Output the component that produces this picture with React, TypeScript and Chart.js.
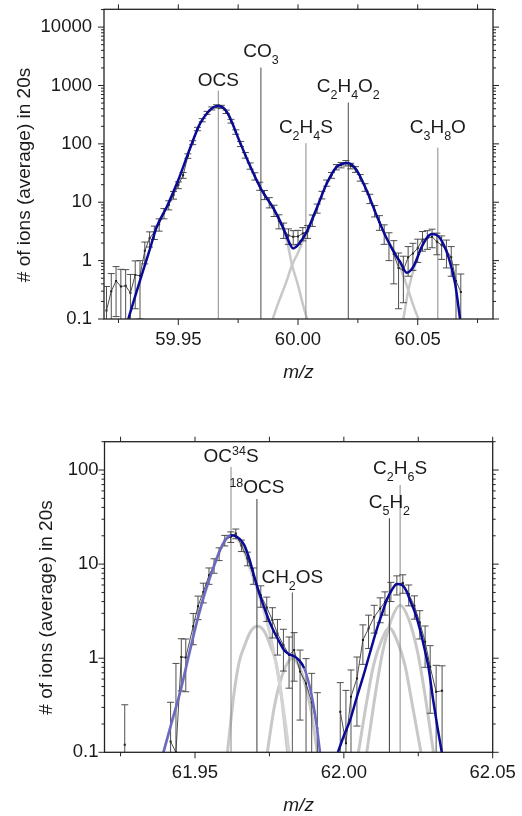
import React, { useEffect, useRef } from "react";
import { Chart, registerables } from "chart.js";

Chart.register(...registerables);

const FONT = '"Liberation Sans", Arial, Helvetica, sans-serif';
const INK = "#1a1a1a";
const FIT_DARK = "#0a0a96";
const FIT_LIGHT = "#6a6ac2";
const COMP_GRAY = "#c8c8c8";
const Y_TITLE = "# of ions (average) in 20s";
const X_TITLE = "m/z";

// ================= TOP PANEL (m/z ≈ 60) =================
const topXTicks = [59.925, 59.95, 59.975, 60.0, 60.025, 60.05, 60.075];
const topXLabels = ["", "59.95", "", "60.00", "", "60.05", ""];
const topYMajors = [0.1, 1, 10, 100, 1000, 10000];
const topYLabels = ["0.1", "1", "10", "100", "1000", "10000"];

const topMz = [
  59.920, 59.922, 59.924, 59.926, 59.928, 59.930, 59.932, 59.934, 59.936, 59.938,
  59.940, 59.942, 59.944, 59.946, 59.948, 59.950, 59.952, 59.954, 59.956, 59.958,
  59.960, 59.962, 59.964, 59.966, 59.968, 59.970, 59.972, 59.974, 59.976, 59.978,
  59.980, 59.982, 59.984, 59.986, 59.988, 59.990, 59.992, 59.994, 59.996, 59.998,
  60.000, 60.002, 60.004, 60.006, 60.008, 60.010, 60.012, 60.014, 60.016, 60.018,
  60.020, 60.022, 60.024, 60.026, 60.028, 60.030, 60.032, 60.034, 60.036, 60.038,
  60.040, 60.042, 60.044, 60.046, 60.048, 60.050, 60.052, 60.054, 60.056, 60.058,
  60.060, 60.062, 60.064, 60.066, 60.068,
];
const topCounts = [
  0.14, 0.30, 0.45, 0.36, 0.37, 0.28, 0.57, 0.55, 1.48, 2.41,
  3.1, 4.2, 6.5, 9.0, 13.3, 19.7, 29, 62, 105, 180,
  255, 340, 405, 440, 430, 355, 245, 160, 100, 64,
  42, 28, 19, 13.5, 10, 7.3, 4.8, 3.4, 2.7, 2.56,
  2.6, 2.93, 3.2, 4.95, 7.9, 13.4, 21.4, 29, 40, 43.4,
  46.8, 41.9, 36.6, 26.4, 18.1, 11.6, 7.2, 4.6, 3.0, 2.0,
  1.3, 0.75, 0.69, 1.14, 1.33, 1.63, 2.3, 2.41, 2.56, 2.11,
  1.85, 1.5, 1.14, 0.45, 0.29,
];
const topErr = [
  0.22, 0.3, 0.34, 0.35, 0.33, 0.3, 0.42, 0.45, 0.6, 0.7,
  0.8, 1.0, 1.3, 1.6, 2.0, 2.6, 3.3, 5.5, 8, 12,
  16, 20, 24, 28, 28, 24, 18, 14, 10, 7,
  5.2, 4, 3, 2.4, 2, 1.6, 1.3, 1.0, 0.8, 0.7,
  0.7, 0.75, 0.8, 1.1, 1.4, 2, 2.6, 3.3, 4.2, 4.6,
  5, 4.6, 4.1, 3.4, 2.7, 2.1, 1.6, 1.3, 1.1, 1.0,
  0.9, 0.6, 0.5, 0.6, 0.65, 0.7, 0.85, 0.85, 0.9, 0.85,
  0.8, 0.75, 0.6, 0.4, 0.3,
];

const topFitMz = [
  59.9291, 59.9319, 59.9348, 59.9378, 59.9410, 59.9452, 59.9500, 59.9549, 59.9591, 59.9624,
  59.9645, 59.9666, 59.9687, 59.9709, 59.9751, 59.9792, 59.9848, 59.9897, 59.9939, 59.9960,
  59.9980, 60.0000, 60.0036, 60.0078, 60.0120, 60.0161, 60.0185, 60.0205, 60.0225, 60.0245,
  60.0286, 60.0328, 60.0370, 60.0412, 60.0426, 60.0454, 60.0482, 60.0517, 60.0540, 60.0559,
  60.0578, 60.0594, 60.0628, 60.0656, 60.0677,
];
const topFitCounts = [
  0.1, 0.24, 0.58, 1.42, 3.8, 8.4, 24, 84, 224, 350,
  420, 445, 420, 320, 124, 49.4, 16.2, 7.9, 3.57, 2.2,
  1.62, 1.85, 3.1, 7.9, 21, 40.5, 45.5, 47, 44, 35.6,
  16.2, 6.0, 2.41, 1.17, 0.96, 0.62, 0.79, 1.73, 2.5, 2.85,
  2.75, 2.41, 1.17, 0.41, 0.1,
];

// component tails (grey)
const topOcsTailMz = [59.9848, 59.9897, 59.9939, 59.9958, 59.9975, 60.0000, 60.0020, 60.0038];
const topOcsTail = [16.2, 7.9, 3.57, 1.81, 0.84, 0.38, 0.18, 0.1];
const topC2H4O2LeftMz = [59.9894, 59.9920, 59.9950, 59.9975, 60.0000, 60.0029, 60.0045, 60.0078];
const topC2H4O2Left = [0.1, 0.2, 0.42, 0.84, 1.36, 2.65, 3.4, 7.9];
const topC2H4O2RightMz = [60.0370, 60.0412, 60.0436, 60.0461, 60.0482, 60.0503];
const topC2H4O2Right = [2.41, 1.17, 0.61, 0.31, 0.17, 0.1];
const topC3H8OLeftMz = [60.0440, 60.0461, 60.0489, 60.0510, 60.0530];
const topC3H8OLeft = [0.1, 0.31, 0.84, 1.52, 2.2];

type Seg = [string, "n" | "sub" | "sup"];

const topMarkerMz = [59.9667, 59.9845, 60.0033, 60.0210, 60.0584];
const topMarkerTop = [819, 2028, 102.8, 511, 86.3];
const topMarkerLabelY = [986, 3062, 152, 769, 152];
const topMarkerColor = ["#8a8a8a", "#4a4a4a", "#8a8a8a", "#4a4a4a", "#8a8a8a"];
const topMarkerLabels: Seg[][] = [
  [["OCS", "n"]],
  [["CO", "n"], ["3", "sub"]],
  [["C", "n"], ["2", "sub"], ["H", "n"], ["4", "sub"], ["S", "n"]],
  [["C", "n"], ["2", "sub"], ["H", "n"], ["4", "sub"], ["O", "n"], ["2", "sub"]],
  [["C", "n"], ["3", "sub"], ["H", "n"], ["8", "sub"], ["O", "n"]],
];

// ================= BOTTOM PANEL (m/z ≈ 62) =================
const botXTicks = [61.925, 61.95, 61.975, 62.0, 62.025, 62.05];
const botXLabels = ["", "61.95", "", "62.00", "", "62.05"];
const botYMajors = [0.1, 1, 10, 100];
const botYLabels = ["0.1", "1", "10", "100"];

const botMz = [
  61.9264, 61.9340, 61.9418, 61.9436, 61.9454, 61.9469, 61.9494, 61.9510, 61.9528, 61.9547,
  61.9564, 61.9581, 61.9600, 61.9620, 61.9637, 61.9656, 61.9676, 61.9696, 61.9721, 61.9741,
  61.9760, 61.9777, 61.9797, 61.9816, 61.9833, 61.9853, 61.9873, 61.9892, 61.9911, 61.9950,
  61.9988, 62.0007, 62.0024, 62.0044, 62.0064, 62.0083, 62.0102, 62.0122, 62.0138, 62.0158,
  62.0178, 62.0198, 62.0218, 62.0237, 62.0255, 62.0273, 62.0290, 62.0310, 62.0330,
];
const botCounts: (number | null)[] = [
  0.12, null, 0.13, 0.1, 1.03, 1.02, 2.19, 3.57, 5.07, 7.6,
  9.7, 12.9, 17.9, 19.5, 21.1, 15.8, 11.5, 7.6, 4.68, 3.46,
  2.54, 1.83, 1.38, 1.08, 1.22, 0.72, 0.54, 0.34, 0.18, null,
  0.27, 0.125, 0.39, 0.61, 1.56, 2.07, 2.75, 3.38, 3.97, 5.2,
  6.1, 6.3, 4.8, 3.6, 2.4, 1.5, 0.81, 0.44, 0.45,
];
const botErr = [
  0.2, 0, 0.21, 0.78, 0.58, 0.58, 0.8, 1.0, 1.2, 1.5,
  1.7, 2.0, 2.3, 2.5, 2.5, 2.2, 1.9, 1.5, 1.2, 1.0,
  0.9, 0.75, 0.65, 0.6, 0.65, 0.5, 0.45, 0.35, 0.25, 0,
  0.28, 0.33, 0.36, 0.42, 0.7, 0.8, 0.9, 1.0, 1.1, 1.2,
  1.4, 1.4, 1.2, 1.0, 0.8, 0.7, 0.55, 0.4, 0.38,
];

const botFit1Mz = [
  61.9394, 61.9420, 61.9452, 61.9480, 61.9508, 61.9530, 61.9553, 61.9570, 61.9586, 61.9603,
  61.9620, 61.9635, 61.9650, 61.9665, 61.9682, 61.9698, 61.9715, 61.9732, 61.9749, 61.9766,
  61.9783, 61.9799, 61.9816, 61.9833, 61.9850, 61.9867, 61.9882, 61.9895, 61.9908, 61.9920,
];
const botFit1 = [
  0.1, 0.2, 0.46, 1.1, 2.55, 4.6, 7.65, 10.8, 14.6, 18.3,
  20.3, 20.0, 18.5, 16, 11.5, 7.6, 5.0, 3.5, 2.5, 1.9,
  1.5, 1.22, 1.1, 1.05, 0.95, 0.78, 0.55, 0.36, 0.2, 0.1,
];
const botFit2Mz = [
  61.9980, 62.0000, 62.0021, 62.0043, 62.0065, 62.0088, 62.0110, 62.0127, 62.0144, 62.0161,
  62.0178, 62.0195, 62.0210, 62.0222, 62.0240, 62.0256, 62.0270, 62.0284, 62.0300, 62.0315,
  62.0329,
];
const botFit2 = [
  0.1, 0.15, 0.22, 0.38, 0.64, 1.15, 2.0, 2.9, 4.15, 5.3,
  6.15, 6.0, 5.2, 4.15, 3.0, 2.0, 1.3, 0.81, 0.36, 0.18,
  0.1,
];

const botOC34SMz = [61.9394, 61.9452, 61.9508, 61.9553, 61.9586, 61.9620, 61.9640, 61.9660, 61.9687, 61.9721, 61.9754, 61.9782, 61.9805, 61.9816];
const botOC34S = [0.1, 0.46, 2.55, 7.65, 14.6, 20.3, 19, 15, 8.6, 4.1, 1.69, 0.59, 0.19, 0.1];
const bot18OCSMz = [61.9609, 61.9631, 61.9648, 61.9665, 61.9688, 61.9710, 61.9732, 61.9755, 61.9772, 61.9789, 61.9811];
const bot18OCS = [0.1, 0.42, 0.9, 1.32, 1.95, 2.19, 1.95, 1.32, 0.9, 0.42, 0.1];
const botCH2OSMz = [61.9743, 61.9766, 61.9788, 61.9810, 61.9827, 61.9845, 61.9866, 61.9888, 61.9911];
const botCH2OS = [0.1, 0.30, 0.59, 0.88, 1.0, 0.88, 0.59, 0.30, 0.1];
const botC5H2Mz = [62.0049, 62.0075, 62.0100, 62.0125, 62.0153, 62.0180, 62.0205, 62.0230, 62.0259];
const botC5H2 = [0.1, 0.32, 0.85, 1.5, 2.1, 1.5, 0.85, 0.32, 0.1];
const botC2H6SMz = [62.0077, 62.0105, 62.0130, 62.0160, 62.0189, 62.0218, 62.0248, 62.0273, 62.0301];
const botC2H6S = [0.1, 0.4, 1.15, 2.6, 3.66, 2.6, 1.15, 0.4, 0.1];

const botMarkerMz = [61.9621, 61.9708, 61.9827, 62.0153, 62.0189];
const botMarkerTop = [108, 49.2, 5.0, 30.7, 69.3];
const botMarkerLabelY = [122, 56.5, 6.34, 39.2, 90.8];
const botMarkerColor = ["#8a8a8a", "#3a3a3a", "#555555", "#3a3a3a", "#8a8a8a"];
const botMarkerLabels: Seg[][] = [
  [["OC", "n"], ["34", "sup"], ["S", "n"]],
  [["18", "sup"], ["OCS", "n"]],
  [["CH", "n"], ["2", "sub"], ["OS", "n"]],
  [["C", "n"], ["5", "sub"], ["H", "n"], ["2", "sub"]],
  [["C", "n"], ["2", "sub"], ["H", "n"], ["6", "sub"], ["S", "n"]],
];

// ================= chart machinery =================
interface Curve { mz: number[]; v: number[]; color: string; width: number; light?: number[][] }
interface PanelSpec {
  width: number; height: number;
  area: { left: number; top: number; right: number; bottom: number };
  xMin: number; xMax: number; yMin: number; yMax: number;
  xTicks: number[]; xLabels: string[];
  yMajors: number[]; yLabels: string[]; yLabelGap: number;
  dataMz: number[]; dataY: (number | null)[]; dataErr: number[];
  fits: Curve[]; comps: Curve[];
  markers: { mz: number[]; top: number[]; labelY: number[]; color: string[]; labels: Seg[][] };
  yTitleX: number; yTitleY: number;
}

function logTicks(min: number, max: number): number[] {
  const out: number[] = [];
  for (let e = -1; e <= 5; e++) {
    for (let m = 1; m <= 9; m++) {
      const v = parseFloat((m * Math.pow(10, e)).toPrecision(3));
      if (v >= min - 1e-9 && v <= max) out.push(v);
    }
  }
  return out;
}

function drawRich(ctx: CanvasRenderingContext2D, segs: Seg[], cx: number, base: number) {
  const fontFor = (k: string) => (k === "n" ? `19px ${FONT}` : `12.5px ${FONT}`);
  const widths = segs.map(([t, k]) => {
    ctx.font = fontFor(k);
    return ctx.measureText(t).width;
  });
  const total = widths.reduce((a, b) => a + b, 0);
  let x = cx - total / 2;
  ctx.textAlign = "left";
  ctx.textBaseline = "alphabetic";
  segs.forEach(([t, k], i) => {
    ctx.font = fontFor(k);
    const dy = k === "sub" ? 7 : k === "sup" ? -6.5 : 0;
    ctx.fillText(t, x, base + dy);
    x += widths[i];
  });
}

function makePlugin(p: PanelSpec) {
  const yTicks = logTicks(p.yMin, p.yMax);
  return {
    id: "panelDecor",
    afterDatasetDraw(chart: any, args: any) {
      const ds = chart.data.datasets[args.index];
      if (ds.label !== "data") return;
      const { ctx, chartArea: a } = chart;
      const xs = chart.scales.x;
      const ys = chart.scales.y;
      ctx.save();
      ctx.beginPath();
      ctx.rect(a.left, a.top, a.right - a.left, a.bottom - a.top);
      ctx.clip();
      ctx.strokeStyle = "#3c3c3c";
      ctx.lineWidth = 0.9;
      p.dataMz.forEach((m, i) => {
        const v = p.dataY[i];
        const e = p.dataErr[i];
        if (v == null || !e) return;
        const px = xs.getPixelForValue(m);
        const yt = ys.getPixelForValue(v + e);
        const lo = v - e;
        const yb = lo > 0 ? ys.getPixelForValue(lo) : a.bottom + 3;
        ctx.beginPath();
        ctx.moveTo(px, yt);
        ctx.lineTo(px, yb);
        ctx.moveTo(px - 3.5, yt);
        ctx.lineTo(px + 3.5, yt);
        if (lo > 0) {
          ctx.moveTo(px - 3.5, yb);
          ctx.lineTo(px + 3.5, yb);
        }
        ctx.stroke();
      });
      ctx.restore();
    },
    afterDraw(chart: any) {
      const { ctx, chartArea: a } = chart;
      const xs = chart.scales.x;
      const ys = chart.scales.y;
      ctx.save();
      const line = (x1: number, y1: number, x2: number, y2: number) => {
        ctx.beginPath();
        ctx.moveTo(x1, y1);
        ctx.lineTo(x2, y2);
        ctx.stroke();
      };
      ctx.strokeStyle = "#222";
      ctx.lineWidth = 1.3;
      ctx.strokeRect(a.left, a.top, a.right - a.left, a.bottom - a.top);
      ctx.lineWidth = 1;
      p.xTicks.forEach((v, i) => {
        const px = xs.getPixelForValue(v);
        const len = p.xLabels[i] ? 6 : 4;
        line(px, a.bottom, px, a.bottom + len);
        line(px, a.top, px, a.top - 5);
      });
      yTicks.forEach((v) => {
        const py = ys.getPixelForValue(v);
        if (py < a.top - 0.5) return;
        const len = p.yMajors.includes(v) ? 6 : 3;
        line(a.left, py, a.left - len, py);
        line(a.right, py, a.right + len, py);
      });
      // tick labels
      ctx.fillStyle = INK;
      ctx.font = `18.5px ${FONT}`;
      ctx.textAlign = "center";
      ctx.textBaseline = "alphabetic";
      p.xTicks.forEach((v, i) => {
        if (p.xLabels[i]) ctx.fillText(p.xLabels[i], xs.getPixelForValue(v), a.bottom + 26);
      });
      ctx.textAlign = "right";
      ctx.textBaseline = "middle";
      p.yMajors.forEach((v, i) => {
        ctx.fillText(p.yLabels[i], a.left - p.yLabelGap, ys.getPixelForValue(v));
      });
      // axis titles
      ctx.font = `italic 19px ${FONT}`;
      ctx.textAlign = "center";
      ctx.textBaseline = "alphabetic";
      ctx.fillText(X_TITLE, (a.left + a.right) / 2, a.bottom + 59);
      ctx.save();
      ctx.translate(p.yTitleX, p.yTitleY);
      ctx.rotate(-Math.PI / 2);
      ctx.font = `19px ${FONT}`;
      ctx.textBaseline = "middle";
      ctx.fillText(Y_TITLE, 0, 0);
      ctx.restore();
      // marker labels
      ctx.fillStyle = INK;
      p.markers.labels.forEach((segs, i) => {
        drawRich(ctx, segs, xs.getPixelForValue(p.markers.mz[i]), ys.getPixelForValue(p.markers.labelY[i]));
      });
      ctx.restore();
    },
  };
}

function createPanel(canvas: HTMLCanvasElement, p: PanelSpec) {
  const datasets: any[] = [];
  p.comps.forEach((c) => {
    datasets.push({
      type: "line", label: "comp",
      data: c.mz.map((x, i) => ({ x, y: c.v[i] })),
      borderColor: c.color, borderWidth: c.width, pointRadius: 0,
      cubicInterpolationMode: "monotone", order: 5,
    });
  });
  p.markers.mz.forEach((m, i) => {
    datasets.push({
      type: "line", label: "marker",
      data: [{ x: m, y: p.yMin }, { x: m, y: p.markers.top[i] }],
      borderColor: p.markers.color[i], borderWidth: 1, pointRadius: 0, order: 4,
    });
  });
  datasets.push({
    type: "line", label: "data",
    data: p.dataMz.map((x, i) => ({ x, y: p.dataY[i] })),
    borderColor: "#222", borderWidth: 0.8,
    pointRadius: 1.4, pointStyle: "rect",
    pointBackgroundColor: "#000", pointBorderColor: "#000", pointBorderWidth: 0,
    spanGaps: false, order: 3,
  });
  p.fits.forEach((f) => {
    const isLight = (x: number) => (f.light || []).some(([a, b]) => x >= a && x < b);
    datasets.push({
      type: "line", label: "fit",
      data: f.mz.map((x, i) => ({ x, y: f.v[i] })),
      borderColor: f.color, borderWidth: f.width, pointRadius: 0,
      cubicInterpolationMode: "monotone", order: 1,
      segment: {
        borderColor: (ctx: any) => (isLight(ctx.p0.parsed.x) ? FIT_LIGHT : f.color),
      },
    });
  });

  return new Chart(canvas, {
    type: "line",
    data: { datasets },
    options: {
      responsive: false,
      animation: false,
      events: [],
      layout: {
        padding: { left: 0, top: p.area.top, right: p.width - p.area.right, bottom: 0 },
      },
      plugins: { legend: { display: false }, tooltip: { enabled: false } },
      scales: {
        x: {
          type: "linear", min: p.xMin, max: p.xMax, position: "bottom",
          ticks: { display: false }, grid: { display: false }, border: { display: false },
          afterFit: (s: any) => { s.height = p.height - p.area.bottom; },
        },
        y: {
          type: "logarithmic", min: p.yMin, max: p.yMax, position: "left",
          ticks: { display: false }, grid: { display: false }, border: { display: false },
          afterFit: (s: any) => { s.width = p.area.left; },
        },
      },
    } as any,
    plugins: [makePlugin(p) as any],
  });
}

const topSpec: PanelSpec = {
  width: 522, height: 400,
  area: { left: 104, top: 9.3, right: 493, bottom: 319 },
  xMin: 59.91896, xMax: 60.08145, yMin: 0.1, yMax: 20200,
  xTicks: topXTicks, xLabels: topXLabels,
  yMajors: topYMajors, yLabels: topYLabels, yLabelGap: 12,
  dataMz: topMz, dataY: topCounts, dataErr: topErr,
  fits: [{ mz: topFitMz, v: topFitCounts, color: FIT_DARK, width: 2.5 }],
  comps: [
    { mz: topOcsTailMz, v: topOcsTail, color: COMP_GRAY, width: 2.5 },
    { mz: topC2H4O2LeftMz, v: topC2H4O2Left, color: COMP_GRAY, width: 2.5 },
    { mz: topC2H4O2RightMz, v: topC2H4O2Right, color: COMP_GRAY, width: 2.5 },
    { mz: topC3H8OLeftMz, v: topC3H8OLeft, color: COMP_GRAY, width: 2.5 },
  ],
  markers: { mz: topMarkerMz, top: topMarkerTop, labelY: topMarkerLabelY, color: topMarkerColor, labels: topMarkerLabels },
  yTitleX: 25, yTitleY: 175,
};

const botSpec: PanelSpec = {
  width: 522, height: 416,
  area: { left: 104.5, top: 41.7, right: 492.7, bottom: 352.3 },
  xMin: 61.9196, xMax: 62.05, yMin: 0.1, yMax: 200,
  xTicks: botXTicks, xLabels: botXLabels,
  yMajors: botYMajors, yLabels: botYLabels, yLabelGap: 6,
  dataMz: botMz, dataY: botCounts, dataErr: botErr,
  fits: [
    { mz: botFit1Mz, v: botFit1, color: FIT_DARK, width: 2.5, light: [[61.93, 61.9618], [61.9866, 61.995]] },
    { mz: botFit2Mz, v: botFit2, color: FIT_DARK, width: 2.5 },
  ],
  comps: [
    { mz: botOC34SMz, v: botOC34S, color: "#d4d4d4", width: 3 },
    { mz: bot18OCSMz, v: bot18OCS, color: COMP_GRAY, width: 3 },
    { mz: botCH2OSMz, v: botCH2OS, color: COMP_GRAY, width: 3 },
    { mz: botC5H2Mz, v: botC5H2, color: COMP_GRAY, width: 3 },
    { mz: botC2H6SMz, v: botC2H6S, color: COMP_GRAY, width: 3 },
  ],
  markers: { mz: botMarkerMz, top: botMarkerTop, labelY: botMarkerLabelY, color: botMarkerColor, labels: botMarkerLabels },
  yTitleX: 46.5, yTitleY: 207.5,
};

function Panel({ spec, top }: { spec: PanelSpec; top: number }) {
  const ref = useRef<HTMLCanvasElement>(null);
  useEffect(() => {
    if (!ref.current) return;
    const chart = createPanel(ref.current, spec);
    return () => chart.destroy();
  }, [spec]);
  return (
    <canvas
      ref={ref}
      width={spec.width}
      height={spec.height}
      style={{ position: "absolute", left: 0, top, width: spec.width, height: spec.height, display: "block" }}
    />
  );
}

export default function App() {
  return (
    <div style={{ position: "absolute", left: 0, top: 0, width: 522, height: 816, background: "#fff", overflow: "hidden" }}>
      <Panel spec={topSpec} top={0} />
      <Panel spec={botSpec} top={400} />
    </div>
  );
}
